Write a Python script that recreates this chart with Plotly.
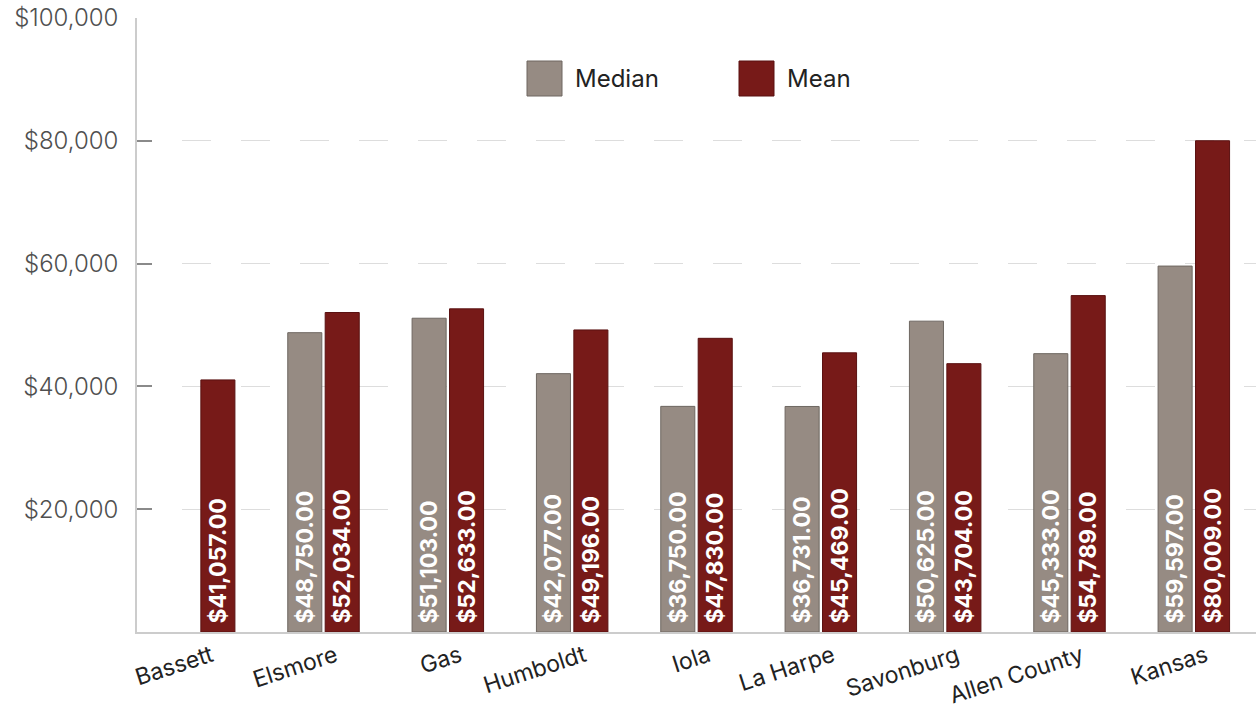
import plotly.graph_objects as go

# Household income by place
places = ["Bassett", "Elsmore", "Gas", "Humboldt", "Iola", "La Harpe",
          "Savonburg", "Allen County", "Kansas"]
median_income = [None, 48750, 51103, 42077, 36750, 36731, 50625, 45333, 59597]
mean_income = [41057, 52034, 52633, 49196, 47830, 45469, 43704, 54789, 80009]
y_ticks = [20000, 40000, 60000, 80000, 100000]
y_tick_text = ["$20,000", "$40,000", "$60,000", "$80,000", "$100,000"]

MEDIAN_FILL, MEDIAN_EDGE = "#968b83", "#6e6761"
MEAN_FILL, MEAN_EDGE = "#771a18", "#5a1111"

# plot-area geometry in pixels (used to place the hand-drawn legend)
W, H = 1256, 711
ML, MR, MT, MB = 137, 0, 18, 79
PW, PH = W - ML - MR, H - MT - MB


def px_x(x):
    return (x - ML) / PW


def px_y(y):
    return (H - MB - y) / PH


bar_text = dict(family="Inter", size=23, color="white", weight=700)
# a leading no-break space lifts the value label off the baseline
label_tpl = "\u00a0$%{y:,.2f}"

fig = go.Figure()
fig.add_trace(go.Bar(
    name="Median", x=places, y=median_income,
    marker=dict(color=MEDIAN_FILL, line=dict(color=MEDIAN_EDGE, width=1)),
    texttemplate=label_tpl, textposition="inside", textangle=-90,
    insidetextanchor="start", insidetextfont=bar_text,
    showlegend=False,
))
fig.add_trace(go.Bar(
    name="Mean", x=places, y=mean_income,
    marker=dict(color=MEAN_FILL, line=dict(color=MEAN_EDGE, width=1)),
    texttemplate=label_tpl, textposition="inside", textangle=-90,
    insidetextanchor="start", insidetextfont=bar_text,
    showlegend=False,
))

# legend: large square swatches with labels
shapes, annotations = [], []
for label, fill, edge, x0 in [("Median", MEDIAN_FILL, MEDIAN_EDGE, 527),
                              ("Mean", MEAN_FILL, MEAN_EDGE, 739)]:
    shapes.append(dict(type="rect", xref="paper", yref="paper",
                       x0=px_x(x0), x1=px_x(x0 + 35), y0=px_y(96), y1=px_y(61),
                       fillcolor=fill, line=dict(color=edge, width=1)))
    annotations.append(dict(xref="paper", yref="paper", x=px_x(x0 + 46), y=px_y(78),
                            text=label, showarrow=False, xanchor="left", yanchor="middle",
                            font=dict(family="Inter", size=24, color="#222222")))

grid_dash = "0px,45px" + ",29px,30px" * 20

fig.update_layout(
    width=W, height=H,
    margin=dict(l=ML, r=MR, t=MT, b=MB),
    paper_bgcolor="white", plot_bgcolor="white",
    barmode="group", bargap=0.398, bargroupgap=0.09,
    shapes=shapes, annotations=annotations,
    showlegend=False,
)
fig.update_xaxes(
    automargin=False,
    showline=True, linecolor="#cccccc", linewidth=1.5,
    showgrid=False, ticks="", tickangle=-18,
    ticklabelshift=12, ticklabelstandoff=0,
    tickfont=dict(family="Inter", size=23, color="#222222"),
)
fig.update_yaxes(
    automargin=False,
    range=[0, 100000], tickvals=y_ticks, ticktext=y_tick_text,
    showline=True, linecolor="#cccccc", linewidth=1.5,
    ticks="inside", ticklen=15, tickcolor="#8a8a8a", tickwidth=1.5,
    showgrid=True, gridcolor="#dddddd", gridwidth=1, griddash=grid_dash,
    zeroline=False, ticklabelstandoff=12,
    tickfont=dict(family="Inter", size=24, color="#4f4f4f", weight=300),
)

fig.write_html("out.html")
